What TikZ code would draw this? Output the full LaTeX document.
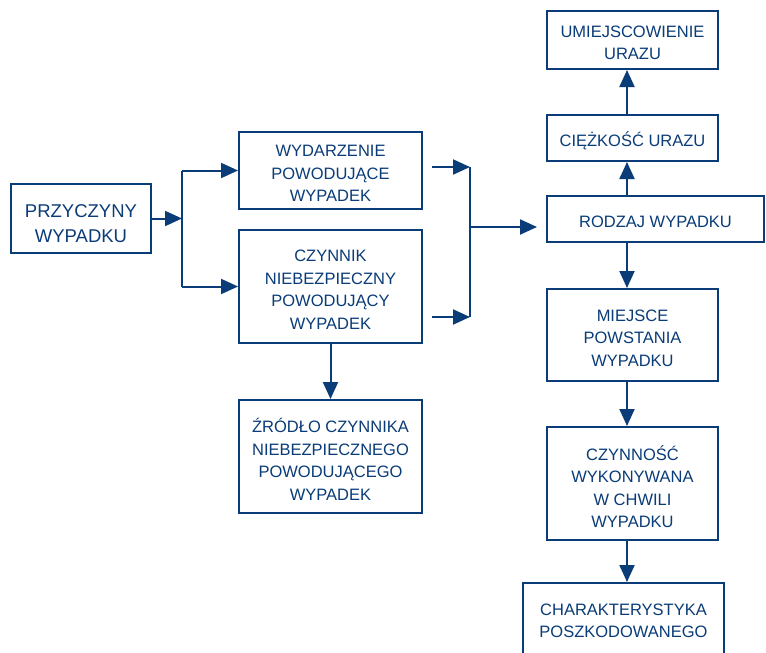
\documentclass[tikz,border=0pt]{standalone}
\usepackage{fontspec}
\setmainfont{Liberation Sans}
\usetikzlibrary{arrows.meta}
\definecolor{dblue}{RGB}{10,60,120}
\begin{document}
\begin{tikzpicture}[x=1pt,y=-1pt,
  box/.style={draw=dblue,line width=2pt,inner sep=0pt},
  txt/.style={text=dblue,inner sep=0pt,align=center,yshift=-3pt,
    font=\fontsize{16.5}{22.5}\selectfont},
  conn/.style={draw=dblue,line width=2pt},
  arr/.style={conn,-{Triangle[length=17pt,width=15pt]}}]
\useasboundingbox (0,0) rectangle (766,653);
\clip (0,0) rectangle (766,653);
\fill[white] (0,0) rectangle (766,653);
% left and middle
\node[box,minimum width=140pt,minimum height=69pt,
  label={[txt,yshift=-2.5pt,font=\fontsize{18.5}{25}\selectfont]center:{PRZYCZYNY\\WYPADKU}}] (prz) at (81,218.5) {};
\node[box,minimum width=183pt,minimum height=77pt,
  label={[txt]center:{WYDARZENIE\\POWODUJĄCE\\WYPADEK}}] (wyd) at (330.5,170.5) {};
\node[box,minimum width=183pt,minimum height=113pt,
  label={[txt]center:{CZYNNIK\\NIEBEZPIECZNY\\POWODUJĄCY\\WYPADEK}}] (czy) at (330.5,286.5) {};
\node[box,minimum width=183pt,minimum height=113pt,
  label={[txt]center:{ŹRÓDŁO CZYNNIKA\\NIEBEZPIECZNEGO\\POWODUJĄCEGO\\WYPADEK}}] (zro) at (330.5,456.5) {};
% right column
\node[box,minimum width=171pt,minimum height=58pt,
  label={[txt]center:{UMIEJSCOWIENIE\\URAZU}}] (umi) at (632.5,40) {};
\node[box,minimum width=171pt,minimum height=46pt,
  label={[txt]center:{CIĘŻKOŚĆ URAZU}}] (cie) at (632.5,138) {};
\node[box,minimum width=217pt,minimum height=46pt,
  label={[txt]center:{RODZAJ WYPADKU}}] (rod) at (655.5,219) {};
\node[box,minimum width=171pt,minimum height=92pt,
  label={[txt]center:{MIEJSCE\\POWSTANIA\\WYPADKU}}] (mie) at (632.5,335) {};
\node[box,minimum width=171pt,minimum height=113pt,
  label={[txt]center:{CZYNNOŚĆ\\WYKONYWANA\\W CHWILI\\WYPADKU}}] (czn) at (632.5,483.5) {};
\node[box,minimum width=201pt,minimum height=76pt,
  label={[txt,yshift=3pt]center:{CHARAKTERYSTYKA\\POSZKODOWANEGO}}] (cha) at (623.5,621) {};
% coordinates
\coordinate (fork1) at (182,218.5);
\coordinate (colx) at (627,0);
\coordinate (s1) at (432,167);
\coordinate (s2) at (432,317);
\coordinate (j1) at (470,167);
\coordinate (j2) at (470,317);
\coordinate (jm) at (470,227);
\coordinate (rt) at (537,227);
% connectors left
\draw[arr] (prz.east) -- (fork1);
\draw[conn] (fork1 |- wyd.west) -- (fork1 |- czy.west);
\draw[arr] (fork1 |- wyd.west) -- (wyd.west);
\draw[arr] (fork1 |- czy.west) -- (czy.west);
\draw[arr] (czy.south) -- (zro.north);
% connectors middle
\draw[arr] (s1) -- (j1);
\draw[arr] (s2) -- (j2);
\draw[conn] (j1) -- (j2);
\draw[arr] (jm) -- (rt);
% right column
\draw[arr] (rod.north -| colx) -- (cie.south -| colx);
\draw[arr] (cie.north -| colx) -- (umi.south -| colx);
\draw[arr] (rod.south -| colx) -- (mie.north -| colx);
\draw[arr] (mie.south -| colx) -- (czn.north -| colx);
\draw[arr] (czn.south -| colx) -- (cha.north -| colx);
\end{tikzpicture}
\end{document}
